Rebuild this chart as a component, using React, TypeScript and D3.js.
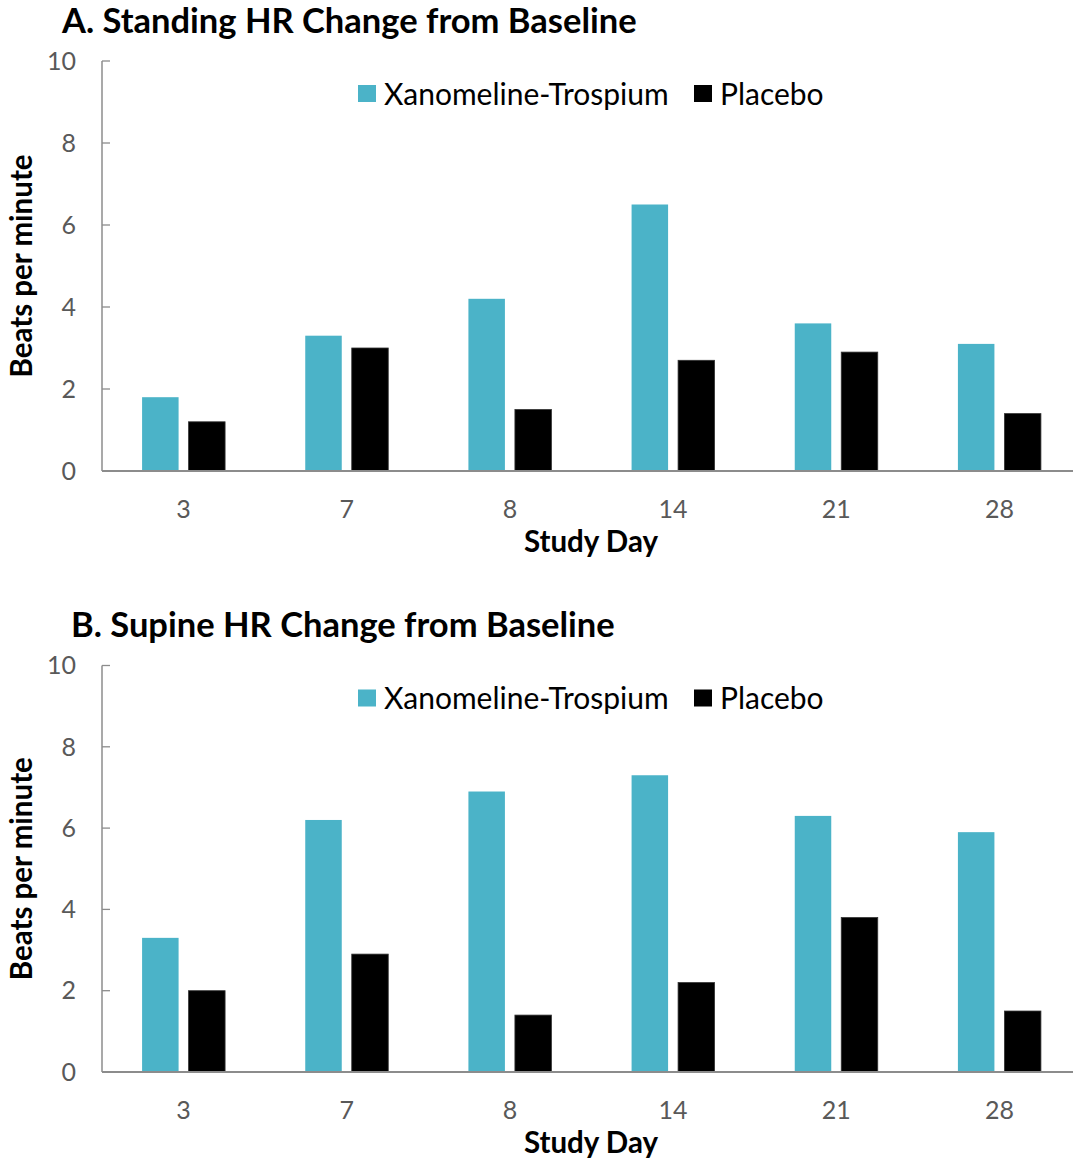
import React from "react";
import * as d3 from "d3";

const categories = ["3", "7", "8", "14", "21", "28"];
const seriesNames = ["Xanomeline-Trospium", "Placebo"];
const seriesColors = ["#4BB3C8", "#000000"];
const standingXT = [1.8, 3.3, 4.2, 6.5, 3.6, 3.1];
const standingPlacebo = [1.2, 3.0, 1.5, 2.7, 2.9, 1.4];
const supineXT = [3.3, 6.2, 6.9, 7.3, 6.3, 5.9];
const supinePlacebo = [2.0, 2.9, 1.4, 2.2, 3.8, 1.5];
const yTicks = [0, 2, 4, 6, 8, 10];

const FONT = "Lato, 'Open Sans', sans-serif";
const W = 1073;
const H = 1159;

type PanelProps = {
  top: number;
  title: string;
  titleX: number;
  xt: number[];
  pl: number[];
  y0: number;
  y10: number;
};

function Panel({ top, title, titleX, xt, pl, y0, y10 }: PanelProps) {
  const left = 102;
  const right = 1081;
  const x0 = d3.scaleBand<string>().domain(categories).range([left, right]).paddingInner(0).paddingOuter(0);
  const x1 = d3
    .scaleBand<string>()
    .domain(seriesNames)
    .range([0, x0.bandwidth()])
    .paddingInner(0.215)
    .paddingOuter(0.862);
  const y = d3.scaleLinear().domain([0, 10]).range([y0, y10]);
  const values = [xt, pl];
  const axisColor = "#8c8c8c";
  const labelColor = "#595959";
  return (
    <g>
      <text x={titleX} y={top + 33} fontFamily={FONT} fontWeight={700} fontSize={34.5} fill="#000">
        {title}
      </text>
      {categories.map((c, i) => (
        <g key={c}>
          {seriesNames.map((s, j) => {
            const v = values[j][i];
            return (
              <rect
                key={s}
                x={(x0(c) as number) + (x1(s) as number)}
                y={y(v)}
                width={x1.bandwidth()}
                height={y(0) - y(v)}
                fill={seriesColors[j]}
                stroke={j === 1 ? "#333" : "none"}
                strokeWidth={j === 1 ? 0.8 : 0}
              />
            );
          })}
        </g>
      ))}
      <line x1={left} x2={left} y1={y(10)} y2={y(0)} stroke={axisColor} strokeWidth={1.5} />
      {yTicks.map((t) => (
        <g key={t}>
          <line x1={left} x2={left + 8} y1={y(t)} y2={y(t)} stroke={axisColor} strokeWidth={1.3} />
          <text
            x={76}
            y={y(t)}
            dy="0.35em"
            textAnchor="end"
            fontFamily={FONT}
            fontSize={25}
            fill={labelColor}
          >
            {t}
          </text>
        </g>
      ))}
      <line x1={left} x2={right} y1={y(0)} y2={y(0)} stroke={axisColor} strokeWidth={1.8} />
      {categories.map((c) => (
        <text
          key={c}
          x={(x0(c) as number) + x0.bandwidth() / 2}
          y={y(0) + 38}
          dy="0.35em"
          textAnchor="middle"
          fontFamily={FONT}
          fontSize={25}
          fill={labelColor}
        >
          {c}
        </text>
      ))}
      <text
        x={591}
        y={y(0) + 71}
        dy="0.35em"
        textAnchor="middle"
        fontFamily={FONT}
        fontWeight={700}
        fontSize={29.5}
        fill="#000"
      >
        Study Day
      </text>
      <text
        transform={`translate(22, ${(y(0) + y(10)) / 2 + 0}) rotate(-90)`}
        dy="0.35em"
        textAnchor="middle"
        fontFamily={FONT}
        fontWeight={700}
        fontSize={29.5}
        fill="#000"
      >
        Beats per minute
      </text>
      <rect x={358} y={y(10) + 24} width={18} height={17} fill={seriesColors[0]} />
      <text x={384} y={y(10) + 33} dy="0.35em" fontFamily={FONT} fontSize={30} fill="#000">
        {seriesNames[0]}
      </text>
      <rect x={694} y={y(10) + 24} width={18} height={17} fill={seriesColors[1]} />
      <text x={720} y={y(10) + 33} dy="0.35em" fontFamily={FONT} fontSize={30} fill="#000">
        {seriesNames[1]}
      </text>
    </g>
  );
}

export default function App() {
  return (
    <svg
      width={W}
      height={H}
      viewBox={`0 0 ${W} ${H}`}
      style={{ position: "absolute", left: 0, top: 0, background: "#fff" }}
    >
      <rect x={0} y={0} width={W} height={H} fill="#fff" />
      <Panel
        top={0}
        title="A. Standing HR Change from Baseline"
        titleX={62}
        xt={standingXT}
        pl={standingPlacebo}
        y0={471}
        y10={61}
      />
      <Panel
        top={604}
        title="B. Supine HR Change from Baseline"
        titleX={71}
        xt={supineXT}
        pl={supinePlacebo}
        y0={1072}
        y10={665.5}
      />
    </svg>
  );
}
